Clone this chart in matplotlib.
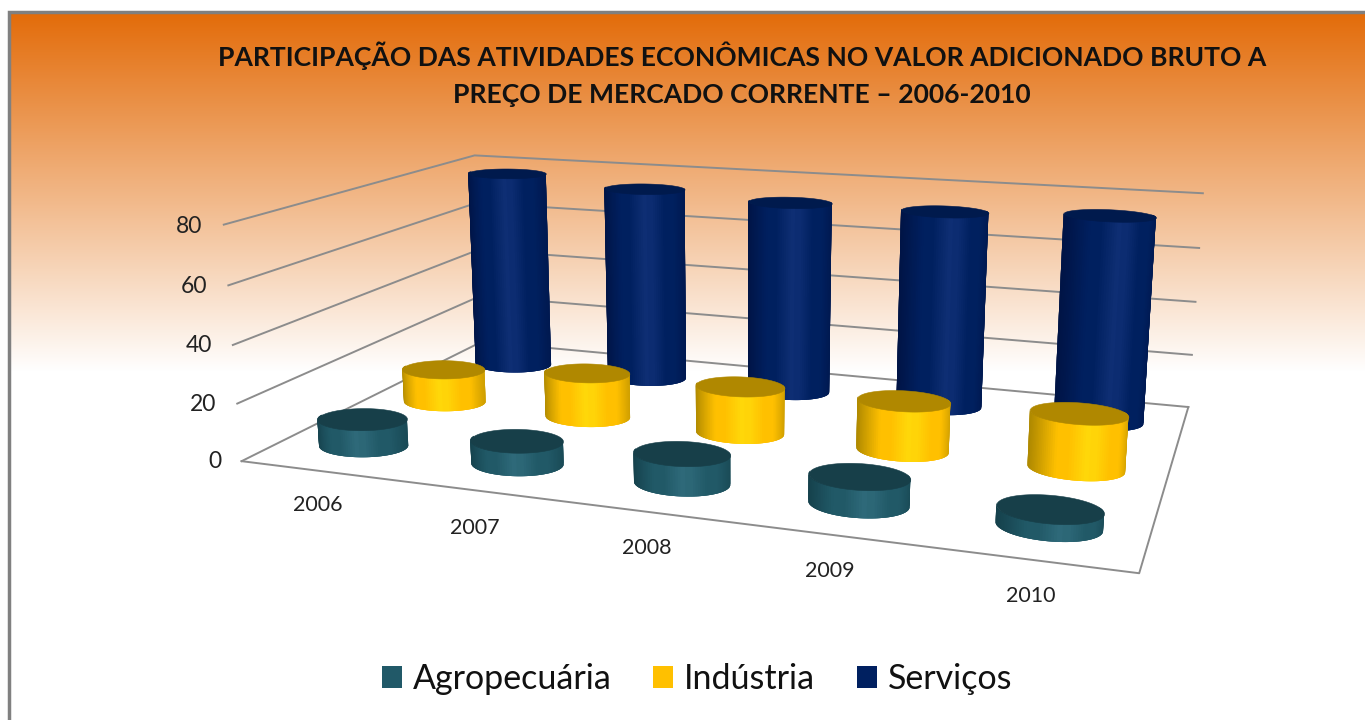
import numpy as np
import matplotlib
matplotlib.use("Agg")
import matplotlib.pyplot as plt
from matplotlib.colors import LinearSegmentedColormap, to_rgb
from matplotlib.patches import Patch
from mpl_toolkits.mplot3d.art3d import Poly3DCollection

plt.rcParams['font.family'] = ['Lato', 'DejaVu Sans']

anos = ['2006', '2007', '2008', '2009', '2010']
series = ['Agropecuária', 'Indústria', 'Serviços']
agropecuaria = [9.5, 8.0, 10.0, 9.0, 5.5]
industria = [12.5, 16.5, 17.0, 17.5, 19.0]
servicos = [78.0, 75.0, 73.0, 73.0, 75.0]
valores = [agropecuaria, industria, servicos]
yticks = [0, 20, 40, 60, 80]

# (edge, body, highlight, top)
cores = [('#15414c', '#215967', '#2f6a7a', '#173f49'),
         ('#b08a00', '#ffc000', '#ffd90a', '#b08800'),
         ('#001446', '#00205f', '#0f2f75', '#001a4d')]
legenda = ['#215968', '#ffc000', '#002060']
titulo = 'PARTICIPAÇÃO DAS ATIVIDADES ECONÔMICAS NO VALOR ADICIONADO BRUTO A\nPREÇO DE MERCADO CORRENTE – 2006-2010'

# year labels, picture pixels
ano_x = [318, 475, 647, 830, 1031]
ano_y = [505, 528, 548, 571, 596]

W, H = 1365, 720
fig = plt.figure(figsize=(W/100, H/100), dpi=100)

# background: gradient and grey border
bg = fig.add_axes([0, 0, 1, 1])
grad = np.linspace(0, 1, 256)[:, None]
cmap = LinearSegmentedColormap.from_list('laranja', ['#e36c0a', '#ffffff'])
bg.imshow(grad, extent=(10, W, 372, 13), aspect='auto', cmap=cmap, vmin=0, vmax=1)
bg.plot([8.5, 8.5, W], [H, 12, 12], color='#808080', lw=2.5, solid_joinstyle='miter')
bg.set_xlim(0, W)
bg.set_ylim(H, 0)
bg.set_xticks([])
bg.set_yticks([])
bg.axis('off')

# camera values found by fitting to the picture
azim = -70.75
aspect = (1, 0.5773, 0.2732)
s, cx, cy = 5268.27, 740.0, 322.25
L = s*0.185
ax = fig.add_axes([(cx - 0.095*s)/W, (H - cy - 0.095*s)/H, L/W, L/H], projection='3d')
ax.set_xlim(0, 5, view_margin=0)
ax.set_ylim(0, 3, view_margin=0)
ax.set_zlim(0, 80, view_margin=0)
ax.view_init(13.77, azim, -0.02)
ax.set_proj_type('persp', focal_length=0.3129)
ax.set_box_aspect(aspect)
ax.set_xticks([])
ax.set_yticks([])
ax.set_zticks([])
ax.set_axis_off()
ax.xaxis.set_visible(False)
ax.yaxis.set_visible(False)
ax.zaxis.set_visible(False)
ax.patch.set_alpha(0)
ax.computed_zorder = False

grid = '#8c8c8c'
for z in yticks:
    ax.plot([0, 0, 5], [0, 3, 3], [z, z, z], color=grid, lw=1.4, clip_on=False, zorder=1)
    ax.text(-0.14, 0, z - 1, str(z), ha='right', va='center', fontsize=16.5, color='#222222')
ax.plot([0, 5, 5], [0, 0, 3], [0, 0, 0], color=grid, lw=1.4, clip_on=False, zorder=1)

for a, px, py in zip(anos, ano_x, ano_y):
    bg.text(px, py, a, ha='center', va='center', fontsize=15.5, color='#222222')

rx, ry = 0.27, 0.22
# world sizes of the ellipse, to find what faces the camera
wx, wy = rx*aspect[0]/5, ry*aspect[1]/3
az = np.deg2rad(azim)
th = np.linspace(0, 2*np.pi, 121)
mid = th[:-1] + 1.5*(th[1] - th[0])
facing = np.cos(mid)/wx*np.cos(az) + np.sin(mid)/wy*np.sin(az)
u = -wx*np.cos(mid)*np.sin(az) + wy*np.sin(mid)*np.cos(az)
u = u/np.abs(u).max()
frente = np.where(facing > -0.2*np.abs(facing).max())[0]

def paint(c):
    edge, body, high = [np.array(to_rgb(k)) for k in c[:3]]
    t = np.abs(u - 0.1)/1.1
    w1 = np.clip(t/0.35, 0, 1)[:, None]
    w2 = np.clip((t - 0.55)/0.45, 0, 1)[:, None]
    rgb = high + (body - high)*w1 + (edge - body)*w2
    return np.c_[rgb, np.ones(len(rgb))]

for j in (2, 1, 0):
    fc = paint(cores[j])
    for i in range(5):
        x = i + 0.5 + rx*np.cos(th)
        y = j + 0.5 + ry*np.sin(th)
        v = valores[j][i]
        # each facet runs over the next ones so no seams show
        quads = []
        cols = []
        for k in frente:
            idx = (np.arange(k, k + 4)) % (len(th) - 1)
            base = [(x[n], y[n], 0) for n in idx]
            topo = [(x[n], y[n], v) for n in idx[::-1]]
            quads.append(base + topo)
            cols.append(fc[k])
        side = Poly3DCollection(quads, facecolors=cols, edgecolors='none', linewidth=0, zorder=10 - j)
        side.set_snap(False)
        ax.add_collection3d(side)
        cap = Poly3DCollection([list(zip(x, y, np.full_like(x, v)))], facecolor=cores[j][3], edgecolor=cores[j][3], linewidth=0.4, zorder=10.5 - j)
        ax.add_collection3d(cap)

fig.text(742/W, 1 - 74/H, titulo, ha='center', va='center', fontsize=19.1, fontweight='bold', color='#111111', linespacing=1.63)

hs = [Patch(facecolor=c, edgecolor='none') for c in legenda]
fig.legend(hs, series, loc='center', bbox_to_anchor=(697/W, 1 - 679/H), ncols=3, frameon=False, fontsize=24.5,
           handlelength=0.58, handleheight=0.58, handletextpad=0.32, columnspacing=1.23, labelcolor='#111111')

fig.savefig("out.png", dpi=100)
